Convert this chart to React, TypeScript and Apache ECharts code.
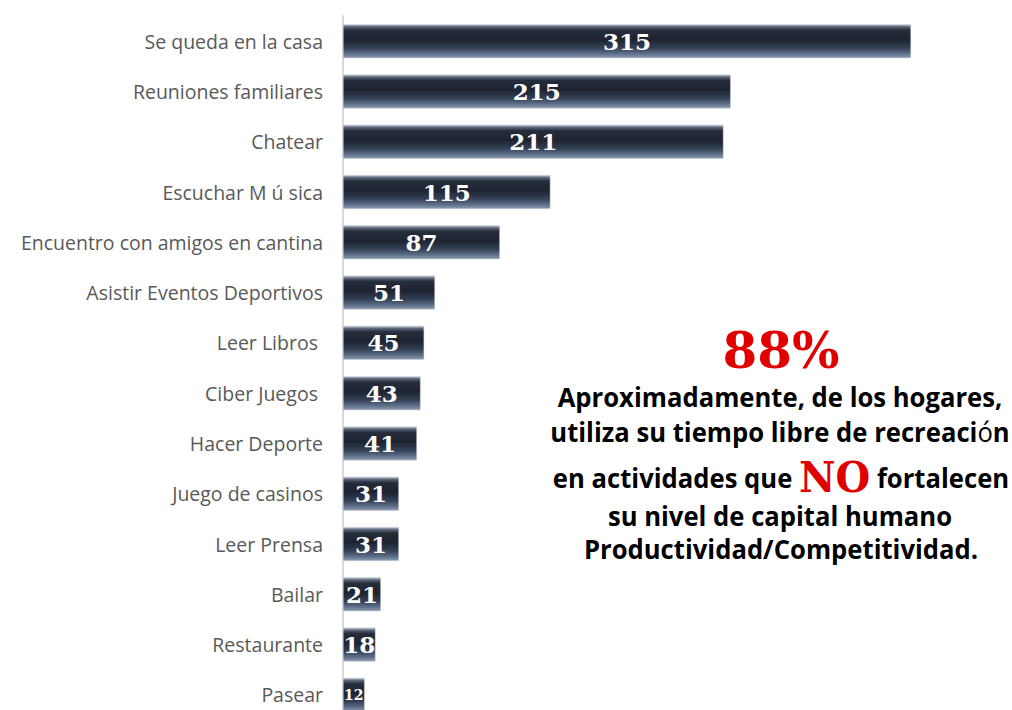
import React, { useEffect, useRef } from "react";
import * as echarts from "echarts";

const categories = [
  "Se queda en la casa",
  "Reuniones familiares",
  "Chatear",
  "Escuchar M ú sica",
  "Encuentro con amigos en cantina",
  "Asistir Eventos Deportivos",
  "Leer Libros ",
  "Ciber Juegos ",
  "Hacer Deporte",
  "Juego de casinos",
  "Leer Prensa",
  "Bailar",
  "Restaurante",
  "Pasear",
];
const values = [315, 215, 211, 115, 87, 51, 45, 43, 41, 31, 31, 21, 18, 12];

const headline = "88%";
const noteLines = [
  "Aproximadamente, de los hogares,",
  "utiliza su tiempo libre de recreación",
  "en actividades que NO fortalecen",
  "su nivel de capital humano",
  "Productividad/Competitividad.",
];

export default function App() {
  const ref = useRef<HTMLDivElement>(null);
  useEffect(() => {
    if (!ref.current) return;
    const chart = echarts.init(ref.current, null, { renderer: "svg" });
    const barColor = new echarts.graphic.LinearGradient(0, 0, 0, 1, [
      { offset: 0, color: "#c3cbd6" },
      { offset: 0.07, color: "#5d6778" },
      { offset: 0.17, color: "#272e3b" },
      { offset: 0.45, color: "#1d2330" },
      { offset: 0.7, color: "#334055" },
      { offset: 0.88, color: "#5f708a" },
      { offset: 1, color: "#8e9db2" },
    ]);
    const black = {
      fontFamily: "Open Sans",
      fontWeight: "bold" as const,
      fontSize: 27,
      fill: "#000",
    };
    const sx = 0.95;
    chart.setOption({
      animation: false,
      grid: { left: 343, width: 568, top: 16, height: 704, containLabel: false },
      xAxis: { type: "value", min: 0, max: 315, show: false },
      yAxis: {
        type: "category",
        data: categories,
        inverse: true,
        axisLine: { show: true, lineStyle: { color: "#d9d9d9", width: 2 } },
        axisTick: { show: false },
        axisLabel: {
          color: "#595959",
          fontFamily: "Open Sans",
          fontSize: 19.5,
          margin: 20,
        },
      },
      series: [
        {
          type: "bar",
          barWidth: 34,
          data: values.map((v) => ({
            value: v,
            label: v < 15 ? { fontSize: 14 } : undefined,
          })),
          itemStyle: { color: barColor, borderColor: "#c7ced8", borderWidth: 0.5 },
          label: {
            show: true,
            position: "inside",
            color: "#ffffff",
            fontFamily: "DejaVu Serif",
            fontWeight: "bold",
            fontSize: 23,
          },
        },
      ],
      graphic: [
        {
          type: "text",
          x: 781,
          y: 350,
          style: {
            text: headline,
            fontFamily: "DejaVu Serif",
            fontWeight: "bold",
            fontSize: 50,
            fill: "#e00000",
            textAlign: "center",
            textVerticalAlign: "middle",
          },
        },
        {
          type: "text",
          x: 780,
          y: 397,
          scaleX: sx,
          style: { ...black, text: noteLines[0], textAlign: "center", textVerticalAlign: "middle" },
        },
        {
          type: "text",
          x: 780,
          y: 432,
          scaleX: sx,
          style: {
            text: "{a|utiliza su tiempo libre de recreaci}{b|ó}{a|n}",
            textAlign: "center",
            textVerticalAlign: "middle",
            rich: {
              a: { ...black },
              b: { fontFamily: "Open Sans", fontSize: 27, fill: "#000" },
            },
          },
        },
        {
          type: "text",
          x: 781,
          y: 478,
          scaleX: sx,
          style: {
            text: "{a|en actividades que }{r|NO}{a| fortalecen}",
            textAlign: "center",
            textVerticalAlign: "middle",
            rich: {
              a: { ...black },
              r: {
                fontFamily: "DejaVu Serif",
                fontWeight: "bold",
                fontSize: 42,
                fill: "#e00000",
              },
            },
          },
        },
        {
          type: "text",
          x: 780,
          y: 516,
          scaleX: sx,
          style: { ...black, text: noteLines[3], textAlign: "center", textVerticalAlign: "middle" },
        },
        {
          type: "text",
          x: 781,
          y: 549,
          scaleX: sx,
          style: { ...black, text: noteLines[4], textAlign: "center", textVerticalAlign: "middle" },
        },
      ],
    });
    return () => chart.dispose();
  }, []);
  return (
    <div
      ref={ref}
      style={{ position: "fixed", left: 0, top: 0, width: 1012, height: 730, background: "#fff" }}
    />
  );
}
